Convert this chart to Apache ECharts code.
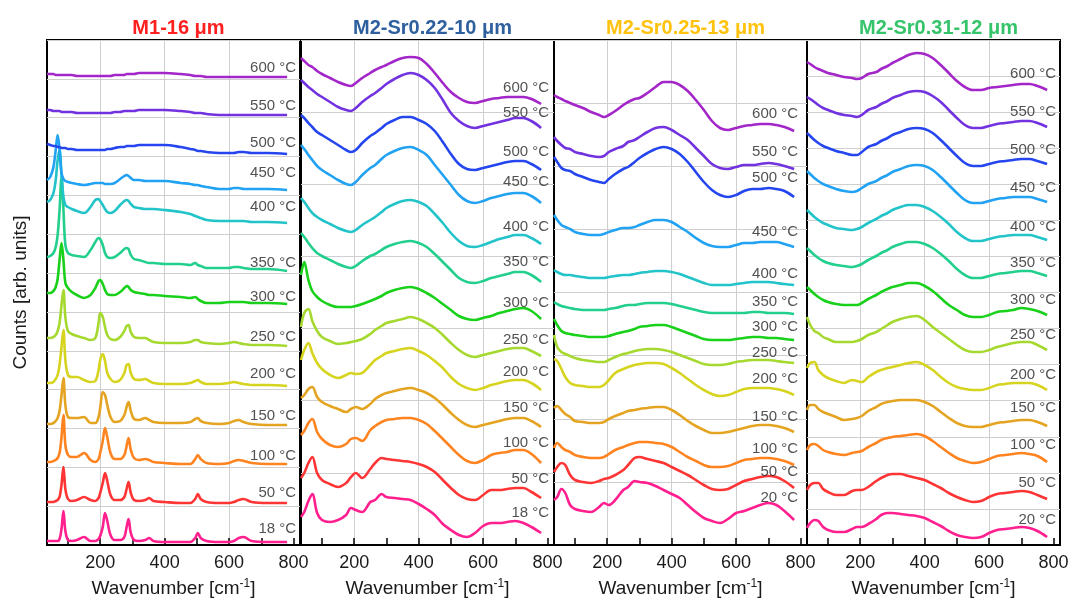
<!DOCTYPE html>
<html>
<head>
<meta charset="utf-8">
<script src="https://cdn.jsdelivr.net/npm/echarts@6/dist/echarts.min.js"></script>
<style>
  html, body { margin: 0; padding: 0; background: #fff; }
  #chart { width: 1076px; height: 610px; }
</style>
</head>
<body>
<div id="chart"></div>
<script>
// Temperature labels, lowest to highest
const TEMPS_18 = ['18 °C', '50 °C', '100 °C', '150 °C', '200 °C', '250 °C', '300 °C', '350 °C', '400 °C', '450 °C', '500 °C', '550 °C', '600 °C'];
const TEMPS_20 = ['20 °C', '50 °C', '100 °C', '150 °C', '200 °C', '250 °C', '300 °C', '350 °C', '400 °C', '450 °C', '500 °C', '550 °C', '600 °C'];

// Wavenumber sampling (cm-1)
const M1_WAVENUMBER = [35, 45, 55, 62, 68, 74, 80, 86, 92, 100, 112, 128, 150, 170, 185, 195, 200, 208, 215, 222, 232, 245, 262, 275, 282, 288, 295, 305, 320, 340, 352, 365, 400, 450, 480, 495, 503, 512, 530, 570, 600, 615, 630, 645, 670, 720, 780];
const M2_WAVENUMBER = [35, 45, 58, 70, 85, 100, 125, 150, 175, 190, 205, 225, 250, 265, 285, 300, 325, 350, 375, 400, 425, 450, 475, 500, 525, 550, 575, 600, 625, 650, 675, 700, 725, 750, 780];

// Stacked Raman counts (arb. units, offset per temperature), rows 18/20 °C .. 600 °C
const M1_COUNTS = [
  [4, 4, 4, 4, 4, 6, 16, 34, 14, 5, 4, 5, 8, 4, 4, 6, 9, 18, 32, 24, 10, 5, 5, 8, 18, 26, 12, 5, 4, 5, 7, 4, 3, 3, 3, 7, 12, 7, 4, 3, 3, 4, 7, 8, 4, 3, 3],
  [43, 43, 43, 44, 45, 48, 60, 78, 56, 46, 44, 45, 48, 45, 44, 47, 52, 62, 72, 64, 50, 45, 45, 48, 56, 63, 52, 45, 44, 45, 47, 44, 43, 42, 42, 46, 51, 46, 43, 42, 42, 43, 45, 46, 43, 42, 42],
  [83, 83, 84, 85, 87, 92, 108, 130, 100, 90, 88, 88, 92, 85, 83, 86, 92, 104, 117, 108, 92, 86, 86, 90, 99, 107, 95, 87, 85, 86, 85, 83, 82, 81, 81, 86, 90, 86, 82, 81, 82, 84, 85, 84, 82, 81, 81],
  [121, 121, 122, 124, 127, 134, 150, 167, 140, 128, 127, 127, 128, 122, 122, 128, 137, 153, 150, 140, 128, 123, 124, 130, 138, 143, 134, 126, 125, 127, 125, 123, 122, 122, 123, 126, 127, 124, 122, 121, 122, 124, 125, 123, 121, 120, 120],
  [162, 162, 163, 166, 170, 180, 198, 215, 185, 170, 168, 168, 165, 163, 164, 175, 185, 191, 184, 172, 166, 163, 165, 172, 180, 181, 172, 166, 165, 166, 164, 162, 161, 161, 162, 164, 165, 163, 161, 161, 162, 163, 162, 161, 160, 160, 159],
  [207, 207, 208, 210, 214, 222, 240, 255, 228, 214, 211, 209, 207, 205, 207, 222, 232, 228, 218, 210, 206, 205, 208, 214, 219, 220, 213, 208, 207, 207, 205, 203, 202, 202, 203, 205, 205, 203, 202, 201, 202, 203, 202, 201, 200, 200, 199],
  [252, 252, 254, 258, 266, 285, 302, 285, 262, 257, 253, 250, 247, 250, 257, 264, 265, 261, 255, 251, 250, 250, 253, 257, 259, 258, 255, 253, 252, 251, 250, 250, 249, 248, 247, 248, 246, 244, 242, 242, 243, 243, 243, 243, 242, 242, 241],
  [288, 289, 292, 298, 310, 335, 368, 335, 300, 292, 290, 289, 288, 295, 303, 307, 306, 300, 292, 288, 287, 288, 292, 296, 297, 296, 290, 286, 285, 283, 282, 282, 281, 281, 280, 282, 280, 279, 277, 277, 277, 278, 278, 277, 276, 276, 274],
  [343, 345, 352, 365, 385, 395, 370, 348, 340, 338, 336, 334, 332, 338, 345, 346, 344, 340, 336, 333, 332, 334, 340, 344, 345, 344, 341, 338, 337, 336, 336, 336, 335, 333, 331, 329, 328, 327, 325, 324, 324, 324, 324, 324, 323, 323, 322],
  [365, 368, 378, 395, 410, 395, 372, 366, 364, 363, 362, 361, 360, 361, 362, 362, 362, 362, 361, 361, 361, 362, 366, 369, 370, 369, 367, 365, 365, 364, 364, 364, 364, 362, 361, 360, 360, 359, 358, 356, 356, 357, 357, 356, 356, 356, 355],
  [401, 400, 399, 399, 398, 398, 397, 397, 397, 396, 396, 395, 395, 395, 395, 395, 395, 395, 395, 396, 396, 397, 398, 398, 399, 399, 399, 399, 400, 400, 400, 400, 400, 398, 396, 395, 394, 394, 393, 392, 392, 392, 393, 393, 392, 392, 391],
  [435, 435, 434, 434, 434, 434, 433, 433, 433, 433, 433, 432, 432, 432, 432, 432, 432, 432, 432, 432, 432, 433, 433, 434, 434, 434, 434, 434, 435, 435, 435, 435, 435, 434, 433, 432, 432, 432, 431, 430, 430, 430, 430, 430, 430, 430, 430],
  [471, 471, 471, 470, 470, 470, 470, 470, 470, 470, 470, 469, 469, 469, 469, 469, 469, 469, 469, 469, 469, 470, 470, 470, 471, 471, 471, 471, 472, 472, 472, 472, 472, 471, 470, 469, 469, 469, 468, 468, 468, 468, 468, 468, 468, 468, 468]
];

const SR022_COUNTS = [
  [28, 33, 44, 51, 32, 25, 23, 25, 30, 37, 35, 33, 43, 45, 51, 48, 47, 46, 45, 41, 36, 30, 21, 15, 10, 8, 12, 19, 22, 22, 23, 24, 22, 18, 12],
  [67, 72, 82, 88, 72, 65, 61, 58, 62, 68, 72, 67, 76, 82, 87, 86, 85, 84, 83, 81, 78, 73, 65, 57, 50, 46, 45, 50, 55, 55, 56, 57, 57, 53, 47],
  [110, 114, 122, 126, 113, 106, 100, 98, 101, 106, 107, 104, 115, 119, 123, 125, 126, 127, 127, 125, 121, 114, 106, 98, 90, 84, 82, 85, 90, 92, 93, 95, 95, 91, 82],
  [147, 150, 156, 158, 148, 143, 139, 136, 133, 136, 138, 136, 141, 146, 150, 152, 154, 156, 157, 155, 152, 147, 140, 132, 125, 120, 118, 120, 122, 124, 126, 127, 127, 124, 118],
  [185, 195, 202, 192, 182, 176, 170, 167, 170, 172, 171, 172, 180, 185, 189, 192, 194, 196, 197, 194, 190, 184, 177, 168, 161, 157, 155, 157, 160, 162, 164, 165, 165, 162, 155],
  [218, 232, 236, 224, 214, 208, 204, 201, 202, 203, 204, 206, 211, 215, 219, 222, 224, 226, 228, 226, 222, 217, 210, 202, 195, 190, 188, 190, 192, 194, 196, 197, 197, 194, 189],
  [270, 283, 265, 254, 248, 244, 240, 238, 238, 238, 239, 241, 244, 246, 249, 252, 255, 257, 258, 256, 252, 247, 241, 235, 229, 226, 225, 227, 229, 232, 234, 236, 237, 234, 226],
  [312, 308, 302, 297, 292, 289, 285, 281, 278, 277, 279, 284, 289, 291, 295, 298, 301, 303, 304, 302, 298, 291, 283, 275, 267, 263, 262, 264, 267, 269, 271, 273, 273, 270, 263],
  [347, 343, 337, 332, 328, 325, 321, 317, 314, 313, 315, 320, 325, 328, 333, 337, 341, 344, 345, 343, 339, 331, 322, 312, 304, 299, 298, 300, 303, 306, 308, 310, 310, 307, 301],
  [400, 396, 390, 385, 379, 375, 370, 365, 361, 360, 363, 370, 377, 380, 386, 390, 394, 397, 398, 395, 390, 380, 370, 360, 350, 344, 342, 344, 347, 349, 351, 352, 352, 349, 342],
  [430, 427, 422, 418, 413, 410, 405, 400, 395, 393, 395, 402, 409, 412, 417, 421, 425, 428, 428, 425, 421, 414, 403, 391, 381, 376, 375, 377, 379, 381, 383, 384, 384, 381, 375],
  [465, 462, 458, 455, 451, 448, 443, 438, 435, 434, 437, 443, 449, 452, 457, 461, 466, 470, 472, 470, 465, 457, 445, 432, 424, 419, 417, 419, 421, 423, 425, 427, 427, 424, 417],
  [487, 484, 480, 478, 474, 471, 467, 463, 460, 459, 462, 467, 472, 475, 478, 480, 484, 487, 488, 487, 481, 472, 462, 453, 447, 443, 442, 444, 446, 447, 448, 448, 448, 446, 441]
];

const SR025_COUNTS = [
  [45, 48, 56, 52, 40, 36, 34, 33, 38, 42, 40, 45, 55, 58, 64, 63, 62, 59, 55, 51, 47, 40, 33, 27, 24, 22, 26, 32, 34, 37, 40, 42, 40, 34, 25],
  [73, 78, 82, 80, 70, 65, 63, 62, 64, 66, 67, 70, 75, 80, 87, 88, 86, 84, 82, 78, 74, 70, 65, 60, 56, 55, 56, 60, 64, 66, 68, 69, 68, 64, 57],
  [97, 102, 98, 95, 93, 90, 88, 87, 87, 88, 91, 95, 98, 100, 102, 103, 103, 102, 101, 98, 93, 88, 84, 80, 78, 78, 79, 82, 85, 86, 87, 87, 86, 84, 80],
  [137, 139, 135, 131, 128, 124, 123, 122, 122, 123, 126, 129, 132, 134, 135, 136, 137, 138, 138, 135, 130, 124, 119, 115, 112, 112, 113, 115, 117, 119, 120, 120, 119, 117, 113],
  [186, 184, 176, 168, 162, 160, 159, 158, 158, 160, 165, 172, 176, 178, 180, 181, 182, 182, 181, 177, 172, 166, 160, 155, 151, 149, 150, 153, 156, 157, 157, 157, 156, 154, 150],
  [210, 198, 193, 191, 189, 187, 185, 184, 183, 183, 185, 188, 191, 192, 194, 195, 196, 196, 195, 193, 190, 187, 184, 181, 180, 180, 181, 183, 184, 185, 185, 185, 184, 183, 182],
  [226, 220, 214, 212, 211, 210, 209, 208, 208, 208, 209, 211, 213, 214, 216, 218, 219, 220, 220, 218, 215, 212, 209, 206, 205, 205, 205, 206, 207, 208, 208, 207, 207, 206, 205],
  [243, 241, 239, 238, 237, 236, 235, 235, 235, 235, 236, 237, 239, 240, 240, 241, 242, 242, 242, 241, 239, 237, 235, 233, 232, 232, 232, 232, 232, 233, 233, 232, 232, 232, 231],
  [275, 273, 271, 270, 270, 269, 268, 267, 267, 267, 268, 269, 270, 270, 271, 272, 273, 274, 274, 273, 271, 268, 265, 262, 260, 260, 260, 261, 262, 263, 263, 263, 262, 261, 260],
  [330, 325, 320, 318, 316, 313, 311, 310, 310, 311, 313, 315, 317, 317, 318, 320, 323, 325, 325, 323, 318, 313, 307, 302, 299, 298, 298, 300, 302, 302, 303, 303, 303, 301, 298],
  [388, 383, 377, 375, 374, 371, 368, 365, 363, 362, 366, 371, 376, 378, 383, 387, 392, 396, 398, 396, 391, 383, 373, 363, 355, 350, 348, 350, 354, 356, 356, 357, 356, 354, 348],
  [408, 404, 400, 397, 396, 393, 391, 389, 388, 389, 393, 396, 399, 403, 405, 408, 413, 417, 418, 415, 410, 405, 397, 389, 381, 377, 376, 378, 380, 380, 381, 382, 381, 379, 376],
  [450, 448, 446, 444, 442, 440, 437, 433, 430, 428, 430, 434, 440, 443, 446, 447, 452, 458, 463, 463, 460, 454, 445, 435, 424, 417, 415, 417, 419, 420, 421, 421, 420, 418, 414]
];

const SR031_COUNTS = [
  [17, 22, 25, 24, 18, 15, 13, 13, 16, 18, 18, 21, 26, 30, 32, 32, 31, 30, 29, 27, 23, 19, 14, 10, 8, 7, 8, 12, 15, 16, 17, 18, 17, 14, 8],
  [55, 60, 62, 62, 56, 53, 50, 50, 54, 55, 55, 58, 64, 67, 70, 71, 71, 69, 67, 65, 61, 57, 52, 48, 45, 43, 44, 48, 51, 52, 53, 54, 53, 50, 46],
  [95, 100, 101, 99, 95, 93, 91, 90, 92, 93, 94, 98, 102, 105, 107, 108, 109, 110, 111, 109, 104, 98, 92, 87, 84, 82, 83, 86, 89, 90, 91, 92, 91, 89, 83],
  [135, 140, 140, 136, 133, 131, 128, 125, 126, 127, 129, 134, 138, 141, 143, 144, 145, 145, 145, 143, 139, 133, 127, 122, 119, 118, 118, 120, 122, 123, 124, 125, 125, 123, 119],
  [177, 182, 183, 175, 170, 167, 164, 162, 165, 164, 163, 168, 173, 175, 177, 178, 180, 182, 183, 180, 175, 168, 162, 158, 156, 155, 155, 157, 160, 161, 162, 162, 162, 160, 155],
  [228, 220, 214, 212, 208, 206, 203, 203, 203, 204, 206, 210, 213, 216, 220, 223, 226, 228, 229, 225, 218, 212, 206, 200, 195, 193, 193, 195, 198, 200, 202, 203, 203, 200, 195],
  [258, 255, 251, 248, 245, 243, 241, 240, 240, 240, 242, 246, 250, 253, 256, 258, 260, 262, 262, 259, 254, 247, 240, 235, 230, 228, 228, 230, 233, 234, 235, 237, 236, 234, 230],
  [297, 294, 290, 287, 284, 282, 280, 279, 278, 279, 281, 285, 289, 292, 295, 298, 301, 303, 303, 301, 297, 291, 284, 276, 270, 267, 267, 269, 271, 272, 273, 274, 274, 272, 269],
  [335, 332, 328, 325, 322, 320, 317, 316, 315, 316, 318, 322, 326, 329, 332, 335, 338, 340, 340, 338, 334, 328, 321, 313, 307, 304, 304, 306, 308, 309, 310, 310, 310, 308, 305],
  [374, 371, 367, 364, 361, 359, 356, 354, 353, 354, 357, 361, 364, 367, 370, 373, 376, 379, 380, 379, 375, 368, 360, 352, 345, 342, 342, 344, 346, 347, 348, 348, 348, 346, 343],
  [412, 409, 405, 402, 399, 397, 394, 392, 390, 390, 393, 398, 401, 404, 407, 410, 413, 416, 417, 416, 412, 405, 397, 389, 382, 379, 379, 381, 383, 384, 385, 386, 386, 384, 381],
  [448, 446, 443, 440, 437, 435, 432, 430, 429, 428, 430, 435, 438, 441, 444, 447, 450, 453, 454, 453, 449, 443, 435, 427, 420, 417, 417, 419, 421, 422, 423, 424, 424, 422, 418],
  [483, 481, 478, 476, 474, 472, 470, 468, 467, 466, 467, 471, 473, 476, 479, 482, 486, 490, 492, 491, 487, 480, 472, 464, 458, 455, 455, 457, 458, 459, 460, 461, 461, 459, 455]
];

// Axis ticks and labels
const X_TICKS = [100, 200, 300, 400, 500, 600, 700, 800];
const X_LABELS = [200, 400, 600, 800];
const X_GRIDLINES = [200, 400, 600];

// ---- styling / layout ----
const CURVE_COLORS = ['#ff1f8e', '#ff3535', '#ff8420', '#e4a421', '#d6d41e', '#a6d930', '#19d11a', '#22cf8c', '#22c3c9', '#22a2f2', '#2546ee', '#7232df', '#a326c9'];
const FONT = "'Liberation Sans', Arial, sans-serif";
const X_MIN = 35, X_MAX = 820, Y_MAX = 505;

const PANELS = [
  { title: 'M1-16 μm', titleColor: '#ff2020', wn: M1_WAVENUMBER, counts: M1_COUNTS, temps: TEMPS_18,
    left: 47, hSplits: 13, labelDx: 9, labelDy: [-13, -10, -8, -9, -12, -9, -7, -8, -16, -17, -11, -9, -9] },
  { title: 'M2-Sr0.22-10 μm', titleColor: '#2e5f9e', wn: M2_WAVENUMBER, counts: SR022_COUNTS, temps: TEMPS_18,
    left: 301, hSplits: 7, labelDx: 8, labelDy: [-20, -19, -20, -19, -18, -16, -16, -20, -17, -21, -18, -15, -16] },
  { title: 'M2-Sr0.25-13 μm', titleColor: '#ffc20e', wn: M2_WAVENUMBER, counts: SR025_COUNTS, temps: TEMPS_20,
    left: 554, hSplits: 8, labelDx: 4, labelDy: [-22, -16, -16, -15, -16, -10, -13, -12, -11, -15, -19, -17, -17] },
  { title: 'M2-Sr0.31-12 μm', titleColor: '#35c46a', wn: M2_WAVENUMBER, counts: SR031_COUNTS, temps: TEMPS_20,
    left: 807, hSplits: 14, labelDx: 9, labelDy: [-17, -16, -17, -18, -15, -15, -15, -13, -13, -14, -14, -15, -16] }
];
const PANEL_WIDTH = 253, PANEL_TOP = 40, PANEL_HEIGHT = 505;

const grids = [], xAxes = [], yAxes = [], series = [], titles = [];

PANELS.forEach((p, pi) => {
  grids.push({
    left: p.left, top: PANEL_TOP, width: PANEL_WIDTH, height: PANEL_HEIGHT,
    show: true, borderColor: '#000', borderWidth: 2, backgroundColor: 'transparent'
  });
  titles.push({
    text: p.title, left: p.left + PANEL_WIDTH / 2, top: 13, textAlign: 'center',
    textStyle: { fontSize: 20, fontWeight: 'bold', color: p.titleColor, fontFamily: FONT }
  });
  // visible bottom axis with ticks and labels
  xAxes.push({
    type: 'value', gridIndex: pi, min: X_MIN, max: X_MAX, position: 'bottom',
    axisLine: { show: true, onZero: false, lineStyle: { color: '#000', width: 2 } },
    axisTick: { show: true, inside: true, length: 7, customValues: X_TICKS, lineStyle: { color: '#000', width: 1.5 } },
    axisLabel: { show: true, customValues: X_LABELS, fontSize: 18, color: '#1a1a1a', margin: 9, fontFamily: FONT },
    splitLine: { show: false },
    name: '{a|Wavenumber [cm}{s|-1}{a|]}', nameLocation: 'middle', nameGap: 33,
    nameTextStyle: {
      rich: {
        a: { fontSize: 19, color: '#1a1a1a', fontFamily: FONT, lineHeight: 22 },
        s: { fontSize: 12, color: '#1a1a1a', fontFamily: FONT, verticalAlign: 'top', lineHeight: 22 }
      }
    }
  });
  // companion axis carrying the vertical grid lines
  xAxes.push({
    type: 'value', gridIndex: pi, min: X_MIN, max: X_MAX, position: 'top',
    axisLine: { show: false }, axisLabel: { show: false },
    axisTick: { show: false, customValues: X_GRIDLINES },
    splitLine: { show: true, lineStyle: { color: '#cfcfcf', width: 1 } }
  });
  yAxes.push({
    type: 'value', gridIndex: pi, min: 0, max: Y_MAX, interval: Y_MAX / p.hSplits,
    axisLine: { show: false }, axisTick: { show: false }, axisLabel: { show: false },
    splitLine: { show: true, lineStyle: { color: '#cfcfcf', width: 1 } },
    name: pi === 0 ? 'Counts [arb. units]' : '', nameLocation: 'middle', nameGap: 17,
    nameTextStyle: { fontSize: 19, color: '#1a1a1a', fontFamily: FONT }
  });

  p.counts.forEach((row, ri) => {
    series.push({
      type: 'line', xAxisIndex: pi * 2, yAxisIndex: pi,
      data: p.wn.map((w, i) => [w, row[i]]),
      smooth: 0.35, symbol: 'none', silent: true,
      lineStyle: { color: CURVE_COLORS[ri], width: 2.6 },
      z: 2 + ri
    });
  });

  // temperature labels anchored at each curve's last point
  const lastX = p.wn[p.wn.length - 1];
  series.push({
    type: 'scatter', xAxisIndex: pi * 2, yAxisIndex: pi, silent: true,
    symbolSize: 1, itemStyle: { color: 'rgba(0,0,0,0)' }, z: 30,
    data: p.counts.map((row, ri) => ({
      value: [lastX, row[row.length - 1]],
      label: { offset: [p.labelDx, p.labelDy[ri]] }
    })),
    label: {
      show: true, position: 'inside', align: 'right', verticalAlign: 'middle',
      fontSize: 15, color: '#262626', fontFamily: FONT,
      formatter: (d) => p.temps[d.dataIndex]
    }
  });
});

const chart = echarts.init(document.getElementById('chart'), null, { renderer: 'canvas' });
chart.setOption({
  backgroundColor: '#fff',
  animation: false,
  textStyle: { fontFamily: FONT },
  title: titles,
  grid: grids,
  xAxis: xAxes,
  yAxis: yAxes,
  series: series
});
</script>
</body>
</html>
